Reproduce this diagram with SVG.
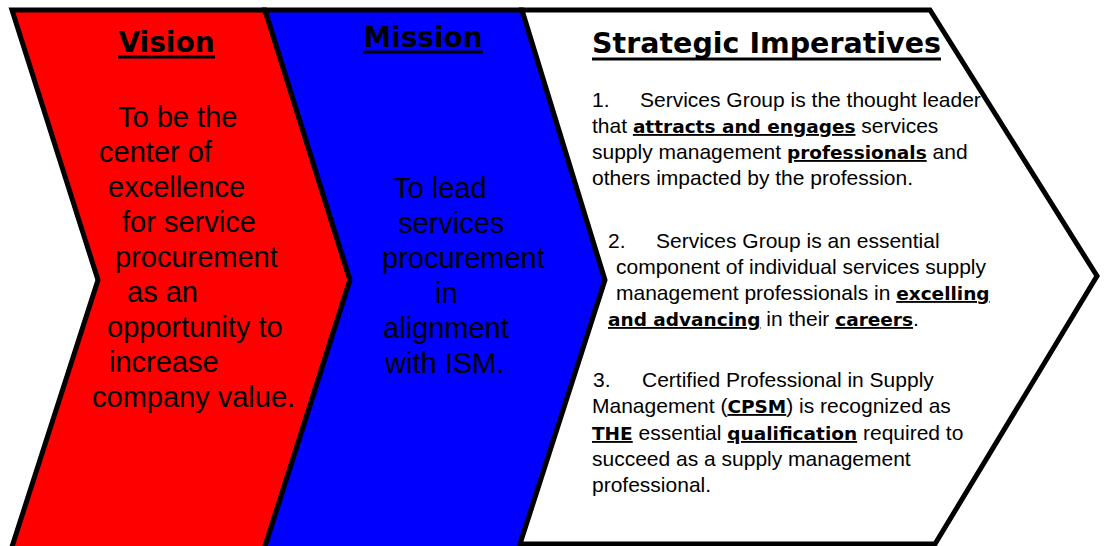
<svg xmlns="http://www.w3.org/2000/svg" width="1105" height="546" viewBox="0 0 1105 546">
  <style>
    .panel { stroke: #000; stroke-width: 5; stroke-linejoin: miter; }
    .head { font-family: "DejaVu Sans", Verdana, sans-serif; font-weight: bold; font-size: 28px; fill: #000; }
    .rule { stroke: #000; stroke-width: 3; }
    .big { font-family: "Liberation Sans", Arial, sans-serif; font-size: 29px; fill: #000; }
    .body { font-family: "Liberation Sans", Arial, sans-serif; font-size: 21px; fill: #000; }
    .b { font-family: "DejaVu Sans", Verdana, sans-serif; font-weight: bold; font-size: 18.5px; text-decoration: underline; }
  </style>
  <rect width="1105" height="546" fill="#fff"/>

  <!-- Vision chevron -->
  <g id="vision">
    <polygon class="panel" fill="#ff0000" points="12,10 265,10 350,280 262,556 9,556 98,280"/>
    <text class="head" x="166.5" y="52" text-anchor="middle">Vision</text>
    <line class="rule" x1="118" y1="57" x2="215" y2="57"/>
    <text class="big">
      <tspan x="118" y="127">To be the</tspan>
      <tspan x="99" y="162">center of</tspan>
      <tspan x="108" y="197">excellence</tspan>
      <tspan x="122" y="232">for service</tspan>
      <tspan x="115" y="267">procurement</tspan>
      <tspan x="127" y="302">as an</tspan>
      <tspan x="107" y="337">opportunity to</tspan>
      <tspan x="109" y="372">increase</tspan>
      <tspan x="92" y="407">company value.</tspan>
    </text>
  </g>

  <!-- Mission chevron -->
  <g id="mission">
    <polygon class="panel" fill="#0000ff" points="265,10 522,10 605,280 517,556 262,556 350,280"/>
    <text class="head" x="423" y="47" text-anchor="middle">Mission</text>
    <line class="rule" x1="363" y1="52" x2="483" y2="52"/>
    <text class="big">
      <tspan x="393" y="198">To lead</tspan>
      <tspan x="398" y="233">services</tspan>
      <tspan x="382" y="268">procurement</tspan>
      <tspan x="435" y="303">in</tspan>
      <tspan x="383" y="338">alignment</tspan>
      <tspan x="385" y="373">with ISM.</tspan>
    </text>
  </g>

  <!-- Strategic Imperatives chevron -->
  <g id="imperatives">
    <polygon class="panel" fill="#ffffff" points="522,10 930,10 1097,276 935,544 520,544 605,280"/>
    <text class="head" x="766.5" y="53" text-anchor="middle" style="font-size:28.5px">Strategic Imperatives</text>
    <line class="rule" x1="592" y1="59" x2="941" y2="59"/>

    <text class="body" y="107"><tspan x="592">1.</tspan><tspan x="640">Services Group is the thought leader</tspan></text>
    <text class="body" x="592" y="133">that <tspan class="b">attracts and engages</tspan> services</text>
    <text class="body" x="592" y="159">supply management <tspan class="b">professionals</tspan> and</text>
    <text class="body" x="592" y="185">others impacted by the profession.</text>

    <text class="body" y="248"><tspan x="608">2.</tspan><tspan x="656">Services Group is an essential</tspan></text>
    <text class="body" x="616" y="274">component of individual services supply</text>
    <text class="body" x="616" y="300">management professionals in <tspan class="b">excelling</tspan></text>
    <text class="body" x="608" y="326"><tspan class="b">and advancing</tspan> in their <tspan class="b">careers</tspan>.</text>

    <text class="body" y="387"><tspan x="593">3.</tspan><tspan x="642">Certified Professional in Supply</tspan></text>
    <text class="body" x="592" y="413">Management (<tspan class="b">CPSM</tspan>) is recognized as</text>
    <text class="body" x="592" y="440"><tspan class="b">THE</tspan> essential <tspan class="b">qualification</tspan> required to</text>
    <text class="body" x="592" y="466">succeed as a supply management</text>
    <text class="body" x="592" y="492">professional.</text>
  </g>
</svg>
